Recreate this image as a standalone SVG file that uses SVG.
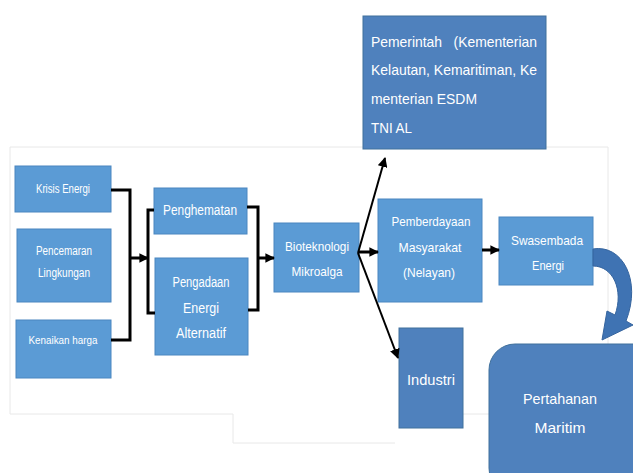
<svg xmlns="http://www.w3.org/2000/svg" width="633" height="473" viewBox="0 0 633 473">
<defs>
<marker id="ah" viewBox="0 0 10 10" refX="9" refY="5" markerWidth="3.2" markerHeight="3.2" orient="auto"><path d="M0,0 L10,5 L0,10 z" fill="#000"/></marker>
<marker id="ah2" viewBox="0 0 10 10" refX="9" refY="5" markerWidth="5" markerHeight="5" orient="auto"><path d="M0,0 L10,5 L0,10 z" fill="#000"/></marker>
</defs>
<style>
.b{fill:#5b9bd5;stroke:#4a86c0;stroke-width:1}
.d{fill:#4f81bd;stroke:#41719c;stroke-width:1}
text{font-family:"Liberation Sans",Arial,sans-serif;fill:#fff;white-space:pre}
.t{text-anchor:middle}
.c{fill:none;stroke:#000;stroke-width:3}
.c2{fill:none;stroke:#000;stroke-width:2}
.bg{fill:none;stroke:#e8e8e8;stroke-width:1}
</style>
<rect width="633" height="473" fill="#fff"/>
<path class="bg" d="M10,147 H608 V414 M10,147 V414 H233 V443 H395 M463,414 H489"/>
<g id="krisis"><rect class="b" x="15" y="166" width="96" height="46"/><text class="t" x="63" y="193" font-size="12" textLength="54" lengthAdjust="spacingAndGlyphs">Krisis Energi</text></g>
<g id="pencemaran"><rect class="b" x="17" y="229" width="94" height="73"/><text class="t" x="64" y="255" font-size="12" textLength="56" lengthAdjust="spacingAndGlyphs">Pencemaran</text><text class="t" x="64" y="277" font-size="12" textLength="52" lengthAdjust="spacingAndGlyphs">Lingkungan</text></g>
<g id="kenaikan"><rect class="b" x="16" y="320" width="95" height="58"/><text class="t" x="63" y="344" font-size="11.5" textLength="69" lengthAdjust="spacingAndGlyphs">Kenaikan harga</text></g>
<g id="penghematan"><rect class="b" x="154" y="188" width="93" height="46"/><text class="t" x="200" y="215" font-size="14" textLength="74" lengthAdjust="spacingAndGlyphs">Penghematan</text></g>
<g id="pengadaan"><rect class="b" x="155" y="258" width="93" height="97"/><text class="t" x="201" y="287" font-size="14" textLength="57" lengthAdjust="spacingAndGlyphs">Pengadaan</text><text class="t" x="201" y="313" font-size="14" textLength="36" lengthAdjust="spacingAndGlyphs">Energi</text><text class="t" x="201" y="338" font-size="14" textLength="50" lengthAdjust="spacingAndGlyphs">Alternatif</text></g>
<g id="bioteknologi"><rect class="b" x="274" y="223" width="85" height="69"/><text class="t" x="317" y="251" font-size="13" textLength="64" lengthAdjust="spacingAndGlyphs">Bioteknologi</text><text class="t" x="317" y="276" font-size="13" textLength="51" lengthAdjust="spacingAndGlyphs">Mikroalga</text></g>
<g id="pemberdayaan"><rect class="b" x="378" y="199" width="104" height="103"/><text class="t" x="431" y="226" font-size="13" textLength="79" lengthAdjust="spacingAndGlyphs">Pemberdayaan</text><text class="t" x="430" y="252" font-size="13" textLength="63" lengthAdjust="spacingAndGlyphs">Masyarakat</text><text class="t" x="429" y="277" font-size="13" textLength="52" lengthAdjust="spacingAndGlyphs">(Nelayan)</text></g>
<g id="swasembada"><rect class="b" x="499" y="217" width="94" height="68"/><text class="t" x="547" y="245" font-size="13" textLength="72" lengthAdjust="spacingAndGlyphs">Swasembada</text><text class="t" x="548" y="270" font-size="13" textLength="32" lengthAdjust="spacingAndGlyphs">Energi</text></g>
<g id="pemerintah"><rect class="d" x="363" y="16" width="183" height="133"/><text x="371" y="47" font-size="15" textLength="166" lengthAdjust="spacingAndGlyphs">Pemerintah   (Kementerian</text><text x="371" y="75" font-size="15" textLength="166" lengthAdjust="spacingAndGlyphs">Kelautan, Kemaritiman, Ke</text><text x="371" y="104" font-size="15" textLength="106" lengthAdjust="spacingAndGlyphs">menterian ESDM</text><text x="371" y="133" font-size="15" textLength="41" lengthAdjust="spacingAndGlyphs">TNI AL</text></g>
<g id="industri"><rect class="d" x="399" y="328" width="64" height="100"/><text class="t" x="431" y="385" font-size="14" textLength="48" lengthAdjust="spacingAndGlyphs">Industri</text></g>
<g id="pertahanan"><rect class="d" x="489" y="344" width="170" height="150" rx="26"/><text class="t" x="560" y="404" font-size="15" textLength="74" lengthAdjust="spacingAndGlyphs">Pertahanan</text><text class="t" x="560" y="433" font-size="15" textLength="51" lengthAdjust="spacingAndGlyphs">Maritim</text></g>
<g id="connectors">
<path class="c" d="M111,190 H130 V340 H111"/>
<path class="c" d="M130,258 H148" marker-end="url(#ah)"/>
<path class="c" d="M154,210 H148 V313 H155"/>
<path class="c" d="M247,207 H258 V310 H248"/>
<path class="c" d="M258,258 H274" marker-end="url(#ah)"/>
<path class="c" d="M359,252 H378" marker-end="url(#ah)"/>
<path class="c2" d="M358,253 L385,158" marker-end="url(#ah2)"/>
<path class="c2" d="M358,253 L398,358" marker-end="url(#ah2)"/>
<path class="c" d="M482,250 H499" marker-end="url(#ah)"/>
<path d="M593,249 C622,244 642,280 626,321 L633,325 L602,340 L607,311 L615,315 C624,290 613,266 593,266 Z" fill="#3f73b3" stroke="#35649e" stroke-width="1"/>
</g>
</svg>
